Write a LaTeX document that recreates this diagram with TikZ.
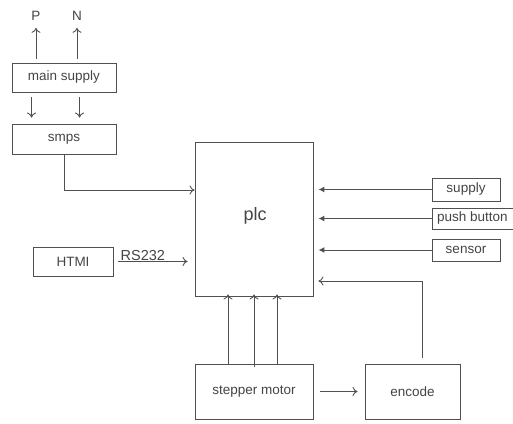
\documentclass[tikz,border=0pt]{standalone}
\usepackage{fontspec}
\setmainfont{Liberation Sans}
\usetikzlibrary{arrows.meta,calc}
\definecolor{ink}{HTML}{444444}
\definecolor{wire}{HTML}{505050}
\tikzset{
  box/.style={draw=wire, line width=0.9pt, inner sep=0pt, text=ink,
    font=\fontsize{13.5}{16}\selectfont},
  lbl/.style={inner sep=0pt, text=ink, font=\fontsize{13.5}{16}\selectfont},
  openarr/.style={draw=wire, line width=0.9pt, -{To[length=5pt,width=9pt]}},
  fillarr/.style={draw=wire, line width=1pt, -{Latex[length=6pt,width=6pt]}},
  plain/.style={draw=wire, line width=0.9pt}
}
\begin{document}
\begin{tikzpicture}[x=1pt,y=-1pt]
\path[use as bounding box] (0,0) rectangle (513,423);
\clip (0,0) rectangle (513,423);
% labels P, N
\node[lbl] (P) at (36,16) {P};
\node[lbl] (N) at (77,16) {N};
% boxes
\node[box, minimum width=104pt, minimum height=29pt] (ms) at (64,77.5) {main supply};
\node[box, minimum width=104pt, minimum height=30pt] (sm) at (64,139) {smps};
\node[box, minimum width=118pt, minimum height=154pt] (plc) at (254,219) {};
\node[lbl, font=\fontsize{18}{21}\selectfont] (plct) at (255,216) {plc};
\node[box, minimum width=80pt, minimum height=29pt] (ht) at (73,261.5) {HTMI};
\node[box, minimum width=68pt, minimum height=23pt] (sup) at (466,189.5) {supply};
\node[box, minimum width=84pt, minimum height=21pt, anchor=west] (pb) at (432,218.5) {\hspace*{-4pt}push button};
\node[box, minimum width=68pt, minimum height=22pt] (sen) at (466,250) {sensor};
\node[box, minimum width=118pt, minimum height=55pt] (st) at (254,391.5) {stepper motor};
\node[box, minimum width=95pt, minimum height=55pt] (enc) at (412.5,391.5) {encode};
% P, N arrows
\draw[openarr] ([yshift=4pt]ms.north -| P) -- ([yshift=-7pt]P.south);
\draw[openarr] ([yshift=4pt]ms.north -| N) -- ([yshift=-7pt]N.south);
% main supply -> smps
\draw[openarr] ([xshift=20pt,yshift=-5pt]ms.south west) -- ([xshift=20pt,yshift=6pt]sm.north west);
\draw[openarr] ([xshift=68pt,yshift=-5pt]ms.south west) -- ([xshift=68pt,yshift=6pt]sm.north west);
% smps -> plc
\draw[openarr] (sm.south) |- (plc.west |- 0,190);
% HTMI -> plc
\node[lbl, anchor=south west, font=\fontsize{14.5}{16}\selectfont] (rs) at ([xshift=7pt,yshift=1pt]ht.east) {RS232};
\draw[openarr, shorten <=5pt, shorten >=7pt] (ht.east) -- (ht.east -| plc.west);
% right inputs
\draw[fillarr, shorten >=5pt] (sup.west) -- (sup.west -| plc.east);
\draw[fillarr, shorten >=5pt] (pb.west) -- (pb.west -| plc.east);
\draw[fillarr, shorten >=5pt] (sen.west) -- (sen.west -| plc.east);
% encode feedback
\draw[openarr, shorten >=5pt] ([xshift=9.5pt,yshift=6pt]enc.north) |- (plc.east |- 0,281);
% stepper -> plc
\draw[openarr, shorten >=-2pt] ([xshift=-26pt]st.north) -- ([xshift=-26pt]plc.south);
\draw[openarr, shorten >=-2pt, shorten <=-3pt] (st.north) -- (plc.south);
\draw[openarr, shorten >=-2pt] ([xshift=23pt]st.north) -- ([xshift=23pt]plc.south);
% stepper -> encode
\draw[openarr, shorten <=7pt, shorten >=7pt] (st.east) -- (enc.west);
\end{tikzpicture}
\end{document}
